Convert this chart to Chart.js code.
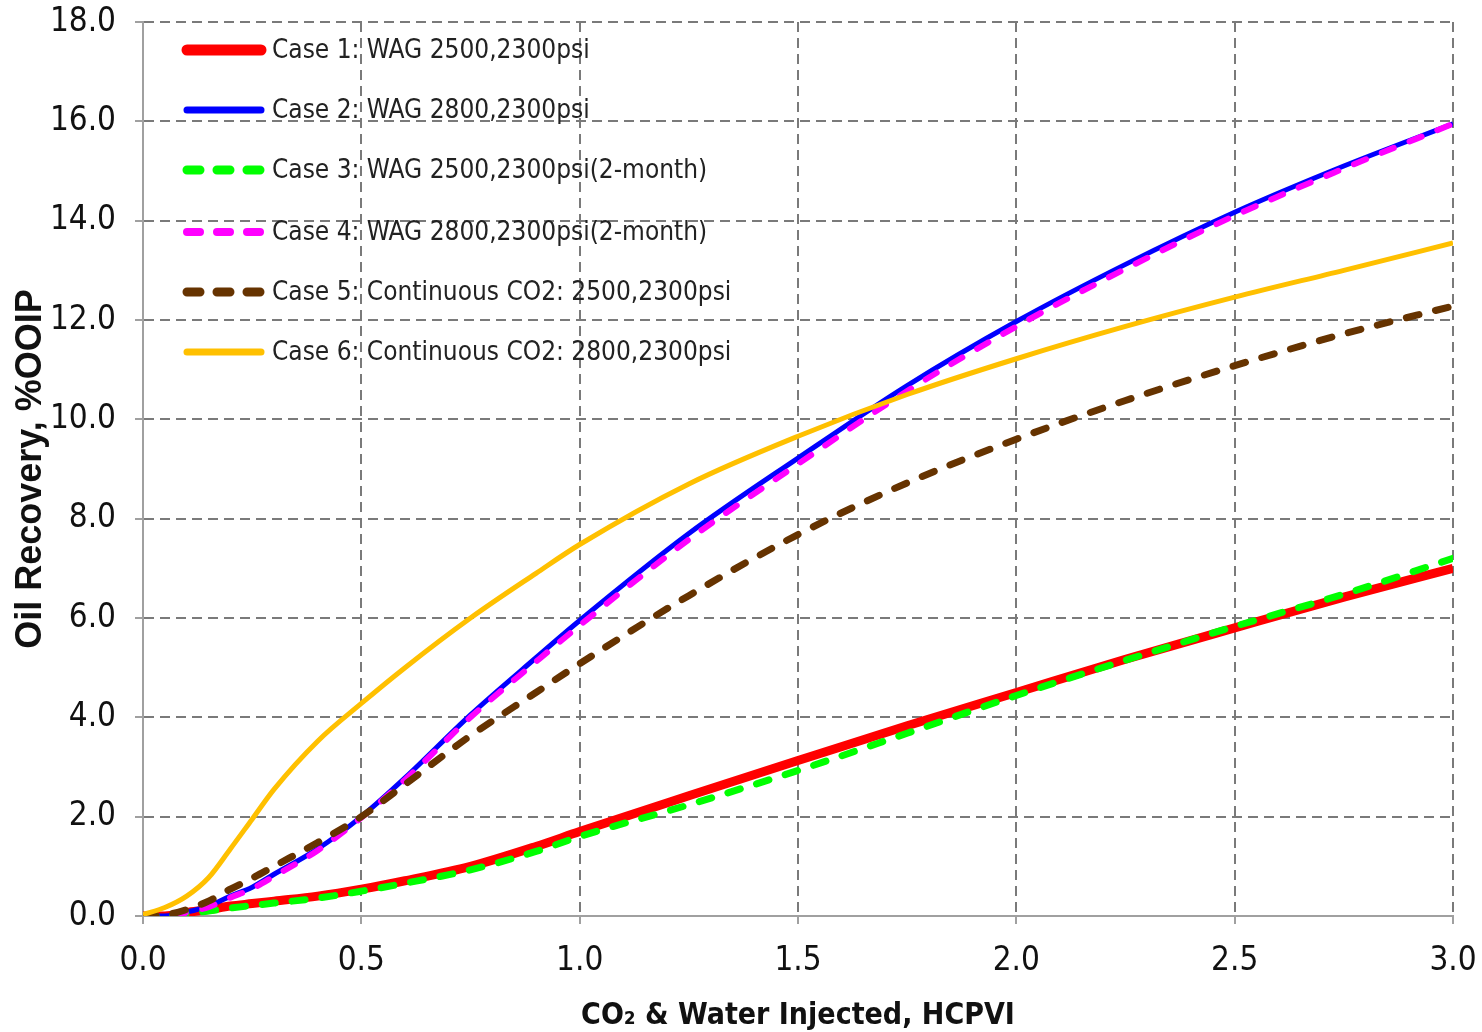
<!DOCTYPE html>
<html lang="en">
<head>
  <meta charset="UTF-8" />
  <title>Oil Recovery vs CO2 & Water Injected</title>
  <script src="https://cdn.jsdelivr.net/npm/chart.js"></script>
  <style>
    html, body { margin: 0; padding: 0; background: #fff; }
    #wrap { width: 1482px; height: 1032px; }
  </style>
</head>
<body>
  <div id="wrap"><canvas id="recoveryChart" width="1482" height="1032"></canvas></div>
  <script>
    // injected volume, HCPVI
    const hcpvi = [0, 0.05, 0.1, 0.15, 0.2, 0.25, 0.3, 0.4, 0.5, 0.6, 0.75, 0.9, 1.0, 1.25, 1.5, 1.75, 2.0, 2.25, 2.5, 2.75, 3.0];

    // oil recovery, %OOIP
    const case1 = [0, 0, 0.07, 0.13, 0.2, 0.25, 0.3, 0.4, 0.54, 0.71, 1.0, 1.4, 1.7, 2.42, 3.13, 3.83, 4.5, 5.17, 5.8, 6.42, 7.0];
    const case2 = [0, 0, 0.08, 0.2, 0.4, 0.58, 0.84, 1.35, 2.0, 2.78, 4.05, 5.2, 5.95, 7.7, 9.22, 10.68, 11.97, 13.12, 14.17, 15.1, 15.95];
    const case3 = [0, 0, 0.05, 0.1, 0.16, 0.21, 0.26, 0.36, 0.5, 0.66, 0.93, 1.3, 1.6, 2.24, 2.93, 3.68, 4.44, 5.15, 5.83, 6.48, 7.2];
    const case4 = [0, 0, 0.07, 0.18, 0.37, 0.55, 0.8, 1.32, 1.98, 2.74, 4.0, 5.12, 5.85, 7.58, 9.1, 10.57, 11.87, 13.03, 14.1, 15.05, 15.95];
    const case5 = [0, 0.02, 0.13, 0.3, 0.54, 0.76, 1.0, 1.48, 2.0, 2.65, 3.63, 4.5, 5.08, 6.45, 7.68, 8.72, 9.6, 10.38, 11.08, 11.72, 12.28];
    const case6 = [0.03, 0.17, 0.4, 0.77, 1.35, 1.95, 2.55, 3.52, 4.28, 5.0, 6.0, 6.9, 7.48, 8.7, 9.66, 10.5, 11.22, 11.87, 12.46, 13.0, 13.55];

    const caseLabels = [
      'Case 1: WAG 2500,2300psi',
      'Case 2: WAG 2800,2300psi',
      'Case 3: WAG 2500,2300psi(2-month)',
      'Case 4: WAG 2800,2300psi(2-month)',
      'Case 5: Continuous CO2: 2500,2300psi',
      'Case 6: Continuous CO2: 2800,2300psi'
    ];

    const yTicks = [0, 2, 4, 6, 8, 10, 12, 14, 16, 18];
    const xTicks = [0, 0.5, 1.0, 1.5, 2.0, 2.5, 3.0];

    const narrow = '"Liberation Sans Narrow", "Arial Narrow", "DejaVu Sans Condensed", sans-serif';
    const gridColor = '#7a7a7a';
    const axisColor = '#a0a0a0';

    function toPoints(values) {
      return hcpvi.map((x, i) => ({ x: x, y: values[i] }));
    }

    function series(label, values, color, width, dash, order) {
      return {
        label: label,
        data: toPoints(values),
        borderColor: color,
        backgroundColor: color,
        borderWidth: width,
        borderDash: dash,
        borderCapStyle: dash.length ? 'round' : 'butt',
        pointRadius: 0,
        pointHoverRadius: 0,
        cubicInterpolationMode: 'monotone',
        fill: false,
        order: order
      };
    }

    // legend drawn inside the plot area, top-left, no box
    const insideLegend = {
      id: 'insideLegend',
      afterDatasetsDraw(chart) {
        const ctx = chart.ctx;
        const rowY = [50, 110, 170, 232, 292, 352];
        ctx.save();
        chart.data.datasets.forEach((ds, i) => {
          const y = rowY[i];
          ctx.beginPath();
          ctx.strokeStyle = ds.borderColor;
          ctx.lineWidth = ds.borderWidth + 2;
          ctx.lineCap = 'round';
          ctx.setLineDash(ds.borderDash.length ? [13, 17] : []);
          ctx.moveTo(187, y);
          ctx.lineTo(261, y);
          ctx.stroke();
          ctx.setLineDash([]);
          ctx.fillStyle = '#222';
          ctx.font = '26px ' + narrow;
          ctx.textAlign = 'left';
          ctx.textBaseline = 'middle';
          ctx.fillText(ds.label, 272, y + 1);
        });
        ctx.restore();
      }
    };

    const ctx = document.getElementById('recoveryChart').getContext('2d');
    new Chart(ctx, {
      type: 'line',
      data: {
        datasets: [
          series(caseLabels[0], case1, '#ff0000', 9, [], 6),
          series(caseLabels[1], case2, '#0000ff', 5, [], 5),
          series(caseLabels[2], case3, '#00ff00', 7, [13, 17], 4),
          series(caseLabels[3], case4, '#ff00ff', 6, [13, 17], 3),
          series(caseLabels[4], case5, '#663300', 7, [13, 17], 2),
          series(caseLabels[5], case6, '#ffc000', 5, [], 1)
        ]
      },
      options: {
        responsive: false,
        animation: false,
        events: [],
        layout: { padding: 0 },
        plugins: {
          legend: { display: false },
          tooltip: { enabled: false }
        },
        scales: {
          x: {
            type: 'linear',
            min: 0,
            max: 3,
            afterFit: s => { s.height = 116; s.paddingLeft = 0; s.paddingRight = 29; },
            afterBuildTicks: s => { s.ticks = xTicks.map(v => ({ value: v })); },
            grid: { color: gridColor, lineWidth: 2, tickLength: 8, tickColor: axisColor, tickWidth: 2, tickBorderDash: [] },
            border: { display: true, color: axisColor, width: 2, dash: [10, 6] },
            ticks: {
              color: '#111',
              padding: 21,
              maxRotation: 0,
              font: { family: narrow, size: 33, lineHeight: 1 },
              callback: v => Number(v).toFixed(1)
            },
            title: {
              display: true,
              text: 'CO₂ & Water Injected, HCPVI',
              color: '#111',
              padding: { top: 0, bottom: 1 },
              font: { family: narrow, size: 30, weight: 'bold', lineHeight: 1 }
            }
          },
          y: {
            type: 'linear',
            min: 0,
            max: 18,
            afterFit: s => { s.width = 143; s.paddingTop = 22; s.paddingBottom = 0; },
            afterBuildTicks: s => { s.ticks = yTicks.map(v => ({ value: v })); },
            grid: { color: gridColor, lineWidth: 2, tickLength: 8, tickColor: axisColor, tickWidth: 2, tickBorderDash: [] },
            border: { display: true, color: axisColor, width: 2, dash: [10, 6] },
            ticks: {
              color: '#111',
              padding: 19,
              font: { family: narrow, size: 33, lineHeight: 1 },
              callback: v => Number(v).toFixed(1)
            },
            title: {
              display: true,
              text: 'Oil Recovery, %OOIP',
              color: '#111',
              padding: { top: 13, bottom: 0 },
              font: { family: '"Liberation Sans", Arial, sans-serif', size: 36, weight: 'bold', lineHeight: 1 }
            }
          }
        }
      },
      plugins: [insideLegend]
    });
  </script>
</body>
</html>
